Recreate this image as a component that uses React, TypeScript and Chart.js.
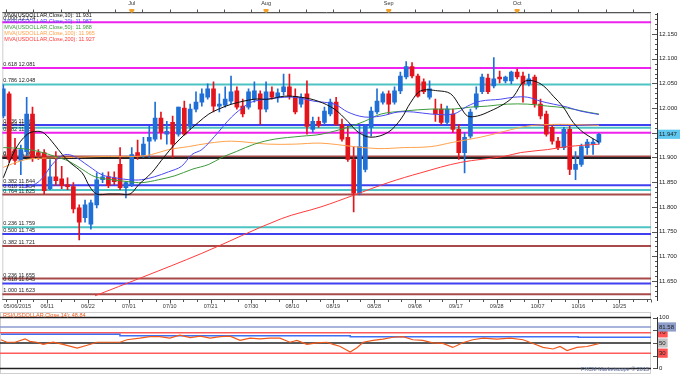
import React, { useEffect, useRef } from "react";
import { Chart, registerables } from "chart.js";

Chart.register(...registerables);

const FONT = "'Liberation Sans', 'DejaVu Sans', sans-serif";

// ---------- candles (daily, index 0 = first visible bar) ----------
const opens = [
  11.984, 12.029, 11.916, 11.894, 11.912, 11.988, 11.910, 11.910, 11.837, 11.861,
  11.857, 11.845, 11.841, 11.798, 11.778, 11.765, 11.804, 11.855, 11.861, 11.859,
  11.886, 11.839, 11.845, 11.910, 11.904, 11.933, 11.937, 11.980, 11.947, 11.971,
  11.947, 12.000, 11.963, 11.998, 12.012, 12.022, 12.039, 12.004, 12.006, 12.014,
  12.035, 12.004, 12.002, 12.018, 12.029, 11.998, 12.033, 12.022, 12.033, 12.043,
  12.024, 12.008, 12.029, 11.957, 11.973, 11.971, 11.988, 12.012, 11.967, 11.941,
  11.896, 11.828, 11.876, 11.961, 11.992, 12.012, 12.029, 12.012, 12.035, 12.063,
  12.084, 12.065, 12.053, 12.022, 11.998, 11.998, 11.971, 11.988, 11.957, 11.910,
  11.943, 12.002, 12.033, 12.061, 12.045, 12.063, 12.055, 12.055, 12.073, 12.065,
  12.049, 12.063, 12.008, 11.988, 11.961, 11.933, 11.920, 11.957, 11.876, 11.886,
  11.920, 11.927, 11.931,
];
const highs = [
  12.047, 12.033, 11.939, 11.925, 12.022, 12.002, 11.916, 11.916, 11.896, 11.912,
  11.882, 11.859, 11.849, 11.804, 11.814, 11.814, 11.869, 11.869, 11.871, 11.871,
  11.920, 11.851, 11.920, 11.935, 11.941, 11.963, 12.012, 11.992, 11.973, 11.984,
  12.002, 12.014, 12.008, 12.033, 12.039, 12.049, 12.053, 12.029, 12.043, 12.065,
  12.043, 12.018, 12.039, 12.053, 12.035, 12.053, 12.043, 12.039, 12.069, 12.069,
  12.039, 12.029, 12.055, 11.982, 11.982, 12.002, 12.018, 12.022, 11.978, 11.963,
  11.922, 11.963, 11.967, 12.002, 12.039, 12.033, 12.035, 12.043, 12.073, 12.094,
  12.092, 12.069, 12.059, 12.055, 12.018, 12.008, 12.004, 11.998, 11.967, 11.951,
  11.998, 12.043, 12.069, 12.069, 12.102, 12.075, 12.065, 12.075, 12.079, 12.073,
  12.069, 12.067, 12.018, 11.994, 11.967, 11.941, 11.961, 11.963, 11.912, 11.927,
  11.937, 11.937, 11.949,
];
const lows = [
  11.980, 11.890, 11.886, 11.865, 11.904, 11.892, 11.896, 11.826, 11.835, 11.843,
  11.837, 11.835, 11.788, 11.733, 11.769, 11.755, 11.798, 11.849, 11.839, 11.845,
  11.835, 11.818, 11.841, 11.896, 11.900, 11.900, 11.933, 11.937, 11.927, 11.900,
  11.943, 11.945, 11.957, 11.992, 12.004, 12.018, 11.992, 11.992, 12.002, 12.008,
  11.998, 11.982, 11.998, 12.012, 11.967, 11.992, 12.018, 12.012, 12.026, 12.018,
  11.988, 12.002, 11.947, 11.951, 11.961, 11.967, 11.984, 11.965, 11.933, 11.892,
  11.790, 11.824, 11.871, 11.943, 11.988, 12.008, 11.988, 12.008, 12.029, 12.059,
  12.061, 12.022, 12.029, 12.018, 11.973, 11.967, 11.967, 11.951, 11.896, 11.869,
  11.939, 11.998, 12.029, 12.029, 12.041, 12.051, 12.051, 12.049, 12.059, 12.012,
  12.045, 12.002, 11.978, 11.943, 11.927, 11.916, 11.916, 11.865, 11.855, 11.882,
  11.906, 11.906, 11.927,
];
const closes = [
  12.039, 11.896, 11.894, 11.916, 11.988, 11.900, 11.904, 11.833, 11.861, 11.853,
  11.843, 11.841, 11.796, 11.769, 11.804, 11.808, 11.855, 11.861, 11.843, 11.851,
  11.839, 11.849, 11.906, 11.902, 11.927, 11.941, 11.980, 11.951, 11.953, 11.927,
  12.002, 11.947, 11.998, 12.012, 12.029, 12.039, 12.004, 12.008, 12.018, 12.033,
  12.002, 11.988, 12.033, 12.035, 11.998, 12.033, 12.022, 12.031, 12.043, 12.024,
  11.992, 12.022, 11.963, 11.973, 11.965, 11.994, 12.012, 11.967, 11.937, 11.896,
  11.828, 11.922, 11.963, 11.994, 12.014, 12.029, 12.008, 12.035, 12.065, 12.084,
  12.065, 12.024, 12.033, 12.039, 11.988, 11.971, 11.998, 11.957, 11.910, 11.941,
  11.992, 12.029, 12.063, 12.033, 12.059, 12.059, 12.063, 12.073, 12.063, 12.049,
  12.059, 12.008, 11.984, 11.947, 11.933, 11.920, 11.957, 11.876, 11.886, 11.922,
  11.931, 11.931, 11.947,
];

// ---------- moving averages (bar index / value) ----------
const ma10Idx = [0, 2.05, 4.1, 5.8, 7.0, 8.7, 10.1, 11.4, 13.5, 14.8, 16.0, 18.1, 19.8, 21.7, 23.2, 25.4, 27.6, 29.4, 31.1, 33.4, 35.2, 36.9, 39.1, 43.0, 45.4, 48.1, 51.0, 53.9, 56.7, 59.0, 60.8, 63.0, 65.9, 68.1, 69.8, 71.5, 74.4, 76.6, 78.3, 79.5, 81.2, 83.4, 85.7, 87.4, 89.1, 90.8, 92.5, 94.2, 95.9, 97.6, 99.3, 102];
const ma10Val = [11.859, 11.916, 11.947, 11.953, 11.949, 11.927, 11.906, 11.890, 11.869, 11.841, 11.826, 11.826, 11.826, 11.826, 11.845, 11.869, 11.902, 11.927, 11.947, 11.971, 11.988, 11.998, 12.008, 12.018, 12.018, 12.024, 12.022, 12.014, 11.998, 11.973, 11.951, 11.941, 11.951, 11.978, 12.012, 12.035, 12.035, 12.029, 12.002, 11.984, 11.984, 11.994, 12.008, 12.024, 12.053, 12.055, 12.045, 12.024, 12.002, 11.971, 11.951, 11.931];

const ma20Idx = [3.6, 6.1, 8.4, 10.1, 11.8, 14.7, 16.9, 19.1, 21.5, 23.7, 25.9, 28.3, 30.5, 32.3, 34.0, 36.2, 39.1, 41.6, 43.0, 46.4, 49.8, 53.2, 56.7, 59.0, 61.8, 64.7, 67.6, 70.3, 73.2, 77.1, 79.5, 81.7, 85.2, 87.4, 89.8, 92.0, 94.2, 96.6, 98.8, 102];
const ma20Val = [11.839, 11.851, 11.886, 11.904, 11.904, 11.882, 11.865, 11.859, 11.855, 11.855, 11.861, 11.871, 11.882, 11.906, 11.916, 11.943, 11.982, 12.006, 12.014, 12.020, 12.022, 12.014, 12.008, 11.992, 11.982, 11.984, 11.992, 11.992, 11.988, 11.988, 12.004, 12.014, 12.018, 12.022, 12.022, 12.014, 12.008, 12.002, 11.994, 11.987];

const ma50Idx = [0, 3.2, 6.1, 8.9, 11.3, 13.5, 15.7, 18.6, 21.5, 23.7, 26.6, 29.4, 32.3, 35.2, 37.4, 39.9, 43.0, 46.4, 51.0, 54.4, 59.0, 61.8, 64.7, 68.6, 73.2, 77.1, 80.0, 82.9, 86.3, 89.8, 93.2, 96.6, 100.0, 102];
const ma50Val = [11.920, 11.918, 11.912, 11.902, 11.892, 11.876, 11.861, 11.855, 11.851, 11.849, 11.855, 11.863, 11.876, 11.886, 11.900, 11.912, 11.927, 11.937, 11.943, 11.947, 11.961, 11.973, 11.988, 11.994, 11.998, 11.998, 12.002, 12.004, 12.008, 12.008, 12.004, 12.000, 11.992, 11.988];

const ma100Idx = [0, 3.2, 5.5, 11.8, 16.9, 22.5, 25.4, 28.3, 31.7, 35.2, 39.1, 45.4, 49.8, 54.4, 60.1, 64.2, 68.6, 73.2, 77.1, 81.7, 85.2, 88.6, 90.8, 94.2, 96.6, 102];
const ma100Val = [11.880, 11.894, 11.898, 11.900, 11.902, 11.902, 11.906, 11.916, 11.922, 11.929, 11.933, 11.927, 11.927, 11.929, 11.922, 11.918, 11.920, 11.922, 11.931, 11.941, 11.951, 11.961, 11.965, 11.967, 11.967, 11.965];

const ma200Idx = [15.7, 23.7, 34.0, 47.6, 54.4, 60.1, 65.9, 71.5, 78.3, 85.7, 88.6, 93.2, 96.6, 102];
const ma200Val = [11.620, 11.657, 11.706, 11.776, 11.800, 11.824, 11.849, 11.869, 11.890, 11.902, 11.910, 11.916, 11.922, 11.927];

const maNames = ["MVA(USDOLLAR,Close,10): 11.931", "MVA(USDOLLAR,Close,20): 11.987", "MVA(USDOLLAR,Close,50): 11.988", "MVA(USDOLLAR,Close,100): 11.965", "MVA(USDOLLAR,Close,200): 11.927"];
const maColors = ["#111111", "#4a4af2", "#3d9b3d", "#ffa24c", "#ff3b3b"];

// ---------- fibonacci / horizontal levels ----------
const fibLevels = [12.174, 12.081, 12.048, 11.966, 11.960, 11.950, 11.902, 11.899, 11.844, 11.834, 11.825, 11.759, 11.745, 11.721, 11.655, 11.645, 11.623];
const fibRatios = ["0.000", "0.618", "0.786", "0.236", "0.764", "0.382", "0.618", "0.500", "0.382", "0.618", "0.764", "0.236", "0.500", "0.382", "0.236", "0.618", "1.000"];
const fibColors = ["#ee22ee", "#ee22ee", "#4cc4c4", "#4040f0", "#4cc4c4", "#ee22ee", "#a84a4a", "#222222", "#4040f0", "#4cc4c4", "#a84a4a", "#4cc4c4", "#4040f0", "#a84a4a", "#a84a4a", "#4040f0", "#a84a4a"];

// ---------- axes ----------
const dateTickPos = [2.4, 7.5, 14.5, 21.5, 28.5, 35.5, 42.5, 49.5, 56.5, 63.5, 70.5, 77.5, 84.5, 91.5, 98.5, 105.5];
const dateTickLabels = ["05/06/2015", "06/11", "06/22", "07/01", "07/10", "07/21", "07/30", "08/10", "08/19", "08/28", "09/08", "09/17", "09/28", "10/07", "10/16", "10/25"];
const monthPos = [22, 45, 66, 88];
const monthLabels = ["Jul", "Aug", "Sep", "Oct"];
const priceTicks = [11.65, 11.7, 11.75, 11.8, 11.85, 11.9, 11.95, 12.0, 12.05, 12.1, 12.15];
const lastPrice = 11.947;
const priceMin = 11.6115;
const priceMax = 12.1925;
const idxMin = -0.17;
const idxMax = 111.95;

// ---------- RSI ----------
const rsiIdx = [0, 1.0, 2.4, 4.1, 4.9, 6.1, 7.2, 8.9, 10.6, 13.0, 14.7, 16.4, 18.6, 20.3, 21.5, 23.7, 25.4, 27.1, 28.8, 30.5, 32.3, 34.0, 35.7, 37.4, 39.1, 40.8, 42.5, 44.2, 45.9, 47.6, 49.3, 50.5, 52.2, 53.9, 55.6, 56.7, 57.8, 59.6, 60.8, 61.8, 63.5, 65.2, 66.9, 68.6, 70.3, 72.0, 73.7, 75.4, 77.1, 78.8, 80.5, 82.3, 84.6, 86.9, 89.1, 90.8, 92.5, 94.2, 95.4, 96.6, 98.3, 100.0, 102];
const rsiVal = [56.4, 51.5, 51.5, 58.2, 53.3, 51.5, 47.3, 51.5, 47.3, 40.0, 45.5, 51.5, 51.5, 51.5, 56.4, 59.5, 62.4, 62.4, 59.5, 65.5, 60.5, 63.6, 59.5, 62.4, 63.6, 55.1, 59.5, 58.2, 59.5, 59.5, 51.5, 55.1, 47.3, 50.4, 51.5, 47.3, 43.6, 32.2, 41.3, 51.5, 55.1, 57.6, 61.3, 62.4, 56.4, 55.1, 50.4, 49.1, 41.3, 50.4, 56.4, 59.5, 57.6, 59.5, 56.4, 49.1, 41.3, 38.2, 43.1, 35.1, 41.3, 43.1, 48.84];
const rsiBandIdx = [0, 20.3, 59.6, 98.5, 110.9];
const rsiBandVal = [67.0, 64.5, 62.4, 61.3, 61.3];
const rsiLevels = [100, 81.58, 70, 50, 30, 0];
const rsiLevelColors = ["#222222", "#8c9bd0", "#ff5a5a", "#222222", "#ff5a5a", "#222222"];
const rsiTickBg = ["rgba(0,0,0,0)", "#8e9dc9", "#ff5252", "#c4c4c4", "#ff5252", "rgba(0,0,0,0)"];
const rsiTicks = [0, 30, 50, 70, 81.58, 100];

const BLUE = "#1f6fd6";
const RED = "#e3141b";

const pts = (xs: number[], ys: number[]) => xs.map((x, k) => ({ x, y: ys[k] }));

const mainDecor = {
  id: "mainDecor",
  beforeDatasetsDraw(chart: any) {
    const { ctx, chartArea: ca } = chart;
    const ys = chart.scales.y;
    const right = ca.right - 6;
    ctx.save();
    ctx.strokeStyle = "#cfcfcf";
    ctx.lineWidth = 1;
    ctx.strokeRect(ca.left + 0.5, ca.top + 0.5, right - ca.left - 1, ca.bottom - ca.top - 1);
    fibLevels.forEach((lv, k) => {
      const yy = ys.getPixelForValue(lv);
      ctx.strokeStyle = fibColors[k];
      ctx.lineWidth = 2;
      ctx.beginPath();
      ctx.moveTo(ca.left, yy);
      ctx.lineTo(right, yy);
      ctx.stroke();
    });
    ctx.font = `5.5px ${FONT}`;
    ctx.fillStyle = "#222";
    ctx.textAlign = "left";
    ctx.textBaseline = "alphabetic";
    fibLevels.forEach((lv, k) => {
      const yy = ys.getPixelForValue(lv);
      ctx.fillText(`${fibRatios[k]} ${lv.toFixed(3)}`, ca.left + 1, yy - 2);
    });
    ctx.restore();
  },
  afterDraw(chart: any) {
    const { ctx, chartArea: ca } = chart;
    const xs = chart.scales.x;
    const ys = chart.scales.y;
    const right = ca.right - 6;
    ctx.save();
    ctx.strokeStyle = "#555";
    ctx.lineWidth = 1;
    // top ruler
    const ty = ca.top - 0.5;
    ctx.beginPath();
    ctx.moveTo(ca.left, ty);
    ctx.lineTo(right, ty);
    for (let v = 0.5; v < idxMax - 0.5; v += 14 / 3) {
      const x = Math.round(xs.getPixelForValue(v)) + 0.5;
      ctx.moveTo(x, ty);
      ctx.lineTo(x, ty - 3);
    }
    // bottom ruler
    const by = ca.bottom - 0.5;
    ctx.moveTo(ca.left, by);
    ctx.lineTo(right, by);
    for (let v = 0.5; v < idxMax - 0.5; v += 7 / 3) {
      const x = Math.round(xs.getPixelForValue(v)) + 0.5;
      ctx.moveTo(x, by);
      ctx.lineTo(x, by + 2.5);
    }
    dateTickPos.forEach((v) => {
      const x = Math.round(xs.getPixelForValue(v)) + 0.5;
      ctx.moveTo(x, by);
      ctx.lineTo(x, by + 4);
    });
    ctx.moveTo(right + 0.5, by);
    ctx.lineTo(right + 0.5, by + 3);
    // right axis ticks
    const ax = ca.right;
    priceTicks.forEach((p) => {
      const y = Math.round(ys.getPixelForValue(p)) + 0.5;
      ctx.moveTo(ax - 5, y);
      ctx.lineTo(ax, y);
    });
    for (let c = 1162; c <= 1219; c++) {
      const y = Math.round(ys.getPixelForValue(c / 100)) + 0.5;
      ctx.moveTo(ax - 2, y);
      ctx.lineTo(ax, y);
    }
    ctx.stroke();
    // month markers
    ctx.fillStyle = "#f3a028";
    monthPos.forEach((m) => {
      const x = xs.getPixelForValue(m);
      ctx.beginPath();
      ctx.moveTo(x - 2.5, ty - 3.5);
      ctx.lineTo(x + 2.5, ty - 3.5);
      ctx.lineTo(x + 2.5, ty - 1.5);
      ctx.lineTo(x, ty + 0.5);
      ctx.lineTo(x - 2.5, ty - 1.5);
      ctx.closePath();
      ctx.fill();
    });
    // legend of moving averages
    ctx.font = `5.5px ${FONT}`;
    ctx.textAlign = "left";
    ctx.textBaseline = "middle";
    const ly = [15.5, 21, 27, 33, 39];
    maNames.forEach((t, k) => {
      ctx.fillStyle = maColors[k];
      ctx.fillText(t, ca.left + 2, ly[k]);
    });
    ctx.restore();
  },
};

const rsiDecor = {
  id: "rsiDecor",
  beforeDatasetsDraw(chart: any) {
    const { ctx, chartArea: ca } = chart;
    const ys = chart.scales.y;
    const right = ca.right - 6;
    ctx.save();
    ctx.strokeStyle = "#cfcfcf";
    ctx.lineWidth = 1;
    ctx.strokeRect(ca.left + 0.5, 0.5, right - ca.left - 1, chart.height - 1);
    rsiLevels.forEach((lv, k) => {
      const y = ys.getPixelForValue(lv);
      ctx.strokeStyle = rsiLevelColors[k];
      ctx.lineWidth = 1.5;
      ctx.beginPath();
      ctx.moveTo(ca.left, y);
      ctx.lineTo(right, y);
      ctx.stroke();
    });
    ctx.restore();
  },
  afterDraw(chart: any) {
    const { ctx, chartArea: ca } = chart;
    const ys = chart.scales.y;
    const right = ca.right - 6;
    ctx.save();
    ctx.strokeStyle = "#555";
    ctx.lineWidth = 1;
    ctx.beginPath();
    [0, 25, 50, 75, 100].forEach((v) => {
      const y = Math.round(ys.getPixelForValue(v)) + 0.5;
      ctx.moveTo(ca.right - 4, y);
      ctx.lineTo(ca.right, y);
    });
    ctx.stroke();
    ctx.font = `5.5px ${FONT}`;
    ctx.textBaseline = "middle";
    ctx.textAlign = "left";
    ctx.fillStyle = "#f0581a";
    ctx.fillText(`RSI(USDOLLAR,Close,14): ${rsiVal[rsiVal.length - 1].toFixed(2)}`, ca.left + 3, 3);
    ctx.textAlign = "right";
    ctx.fillStyle = "#5a6a9a";
    ctx.fillText("FXCM Marketscope \u00a9 2015", right - 2, 57.5);
    ctx.restore();
  },
};

export default function App() {
  const mainRef = useRef<HTMLCanvasElement>(null);
  const rsiRef = useRef<HTMLCanvasElement>(null);

  useEffect(() => {
    Chart.defaults.font.family = FONT;
    const idx = opens.map((_, i) => i);
    const candleColor = (c: any) => (closes[c.dataIndex] >= opens[c.dataIndex] ? BLUE : RED);
    const maSets = [
      pts(ma10Idx, ma10Val),
      pts(ma20Idx, ma20Val),
      pts(ma50Idx, ma50Val),
      pts(ma100Idx, ma100Val),
      pts(ma200Idx, ma200Val),
    ];

    const main = new Chart(mainRef.current as HTMLCanvasElement, {
      type: "line",
      data: {
        datasets: [
          ...maSets.map((d, k) => ({
            type: "line" as const,
            data: d,
            borderColor: maColors[k],
            borderWidth: 1,
            pointRadius: 0,
            tension: 0.35,
            order: 1,
          })),
          {
            type: "bar" as const,
            data: idx.map((i) => ({ x: i, y: [opens[i], closes[i]] })),
            backgroundColor: candleColor,
            barThickness: 4,
            grouped: false,
            borderWidth: 0,
            order: 2,
          },
          {
            type: "bar" as const,
            data: idx.map((i) => ({ x: i, y: [lows[i], highs[i]] })),
            backgroundColor: candleColor,
            barThickness: 1,
            grouped: false,
            borderWidth: 0,
            order: 3,
          },
        ] as any,
      },
      options: {
        responsive: false,
        animation: false,
        events: [],
        layout: { padding: 0 },
        plugins: { legend: { display: false }, tooltip: { enabled: false } },
        scales: {
          x: {
            type: "linear",
            position: "bottom",
            min: idxMin,
            max: idxMax,
            offset: false,
            grid: { display: false, drawTicks: false },
            border: { display: false },
            afterFit: (s: any) => { s.height = 12; },
            afterBuildTicks: (s: any) => { s.ticks = dateTickPos.map((v) => ({ value: v })); },
            ticks: {
              autoSkip: false,
              maxRotation: 0,
              padding: 3.5,
              color: "#333",
              font: { size: 5.5 },
              callback: (_v: any, i: number) => dateTickLabels[i],
            },
          },
          xTop: {
            type: "linear",
            position: "top",
            min: idxMin,
            max: idxMax,
            offset: false,
            grid: { display: false, drawTicks: false },
            border: { display: false },
            afterFit: (s: any) => { s.height = 13; },
            afterBuildTicks: (s: any) => { s.ticks = monthPos.map((v) => ({ value: v })); },
            ticks: {
              autoSkip: false,
              maxRotation: 0,
              padding: 6,
              color: "#333",
              font: { size: 5.5 },
              callback: (_v: any, i: number) => monthLabels[i],
            },
          },
          y: {
            type: "linear",
            position: "right",
            min: priceMin,
            max: priceMax,
            grid: { display: false, drawTicks: false },
            border: { display: true, color: "#333", width: 1 },
            afterFit: (s: any) => { s.width = 23; },
            afterBuildTicks: (s: any) => {
              s.ticks = [...priceTicks, lastPrice].map((v) => ({ value: v }));
            },
            ticks: {
              padding: 2,
              color: "#222",
              font: { size: 6 },
              callback: (v: any) => Number(v).toFixed(3),
              showLabelBackdrop: (c: any) => c.tick && c.tick.value === lastPrice,
              backdropColor: "#5ec8f0",
              backdropPadding: { top: 1, bottom: 1, left: 1, right: 4 },
            } as any,
          },
        },
      } as any,
      plugins: [mainDecor],
    });

    const rsi = new Chart(rsiRef.current as HTMLCanvasElement, {
      type: "line",
      data: {
        datasets: [
          {
            data: pts(rsiIdx, rsiVal),
            borderColor: "#f0581a",
            borderWidth: 1.2,
            pointRadius: 0,
            tension: 0,
          },
          {
            data: pts(rsiBandIdx, rsiBandVal),
            borderColor: "#3f6ff2",
            borderWidth: 1.5,
            pointRadius: 0,
            stepped: true,
          },
        ] as any,
      },
      options: {
        responsive: false,
        animation: false,
        events: [],
        layout: { padding: { top: 4, bottom: 3, left: 0, right: 0 } },
        plugins: { legend: { display: false }, tooltip: { enabled: false } },
        scales: {
          x: { type: "linear", min: idxMin, max: idxMax, display: false },
          y: {
            type: "linear",
            position: "right",
            min: 0,
            max: 100,
            grid: { display: false, drawTicks: false },
            border: { display: true, color: "#333", width: 1 },
            afterFit: (s: any) => { s.width = 23; },
            afterBuildTicks: (s: any) => { s.ticks = rsiTicks.map((v) => ({ value: v })); },
            ticks: {
              padding: 2,
              color: "#222",
              font: { size: 6 },
              callback: (v: any) => (Number(v) % 1 === 0 ? String(v) : Number(v).toFixed(2)),
              showLabelBackdrop: true,
              backdropColor: (c: any) => rsiTickBg[rsiLevels.indexOf(c.tick ? c.tick.value : -1)] || "rgba(0,0,0,0)",
              backdropPadding: { top: 1, bottom: 1, left: 1, right: 2 },
            } as any,
          },
        },
      } as any,
      plugins: [rsiDecor],
    });

    return () => {
      main.destroy();
      rsi.destroy();
    };
  }, []);

  return (
    <div style={{ position: "absolute", left: 0, top: 0, width: 680, height: 374, background: "#fff" }}>
      <canvas ref={mainRef} width={680} height={312} style={{ position: "absolute", left: 0, top: 0, width: 680, height: 312 }} />
      <canvas ref={rsiRef} width={680} height={62} style={{ position: "absolute", left: 0, top: 312, width: 680, height: 62 }} />
    </div>
  );
}
